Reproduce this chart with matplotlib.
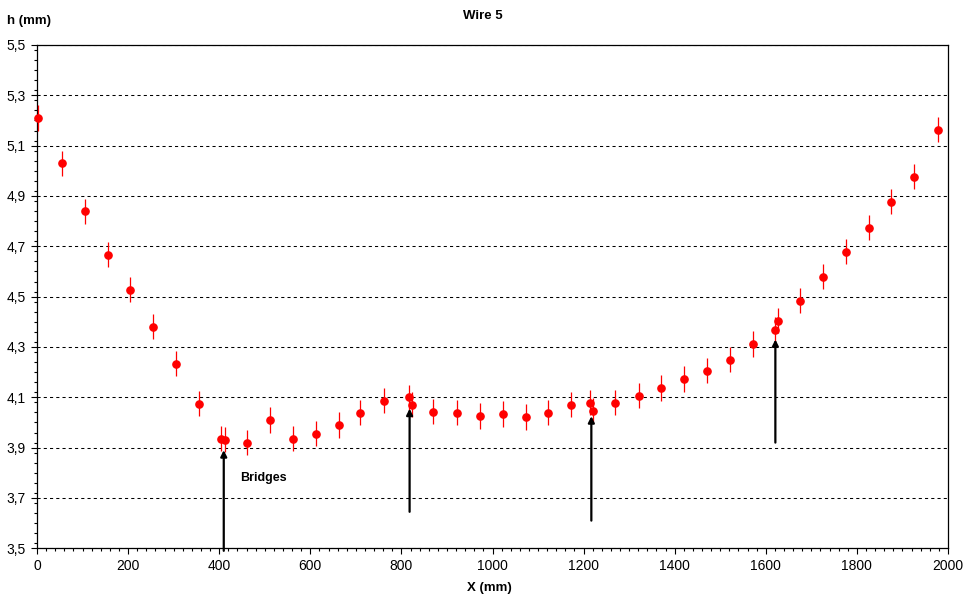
import matplotlib
matplotlib.use("Agg")
import matplotlib.pyplot as plt
from matplotlib.ticker import MultipleLocator

plt.rcParams['font.family'] = ['Liberation Sans', 'DejaVu Sans']

# Measured profile of wire 5
X_MM = [3, 54, 105, 155, 204, 254, 305, 355, 405, 413, 460, 511, 561, 612, 662,
        710, 761, 817, 823, 870, 921, 972, 1022, 1073, 1121, 1172, 1215, 1220,
        1270, 1321, 1371, 1420, 1470, 1521, 1571, 1620, 1626, 1674, 1725, 1775,
        1826, 1874, 1925, 1979]
H_MM = [5.21, 5.03, 4.84, 4.666, 4.527, 4.38, 4.234, 4.074, 3.935, 3.932, 3.92,
        4.01, 3.935, 3.955, 3.99, 4.038, 4.087, 4.10, 4.07, 4.042, 4.038, 4.026,
        4.034, 4.022, 4.038, 4.07, 4.078, 4.046, 4.078, 4.106, 4.137, 4.173,
        4.205, 4.249, 4.312, 4.368, 4.404, 4.484, 4.579, 4.679, 4.774, 4.877,
        4.976, 5.163]
H_ERR = 0.05

# bridge arrows: x, tail y, head y
BRIDGE_X = [410, 818, 1217, 1621]
BRIDGE_Y0 = [3.49, 3.645, 3.61, 3.92]
BRIDGE_Y1 = [3.89, 4.055, 4.025, 4.33]

Y_TICKS = [3.5, 3.7, 3.9, 4.1, 4.3, 4.5, 4.7, 4.9, 5.1, 5.3, 5.5]
Y_LABELS = ["3,5", "3,7", "3,9", "4,1", "4,3", "4,5", "4,7", "4,9", "5,1", "5,3", "5,5"]
X_TICKS = list(range(0, 2001, 200))

fig = plt.figure(figsize=(9.71, 6.05), dpi=100)
ax = fig.add_axes([37 / 971, 1 - 548.3 / 605, (948.3 - 37.3) / 971, (548.3 - 45) / 605])

markers, caps, bars = ax.errorbar(X_MM, H_MM, yerr=H_ERR, fmt='o', color='red', ms=5.2,
                                  elinewidth=0.9, capsize=0, zorder=3)
markers.set_clip_on(False)
for b in bars:
    b.set_clip_on(False)

for x, y0, y1 in zip(BRIDGE_X, BRIDGE_Y0, BRIDGE_Y1):
    ax.annotate("", xy=(x, y1), xytext=(x, y0), annotation_clip=False,
                arrowprops=dict(arrowstyle='-|>', color='black', lw=1.6,
                                mutation_scale=9, shrinkA=0, shrinkB=0))
ax.text(445, 3.78, "Bridges", fontsize=9, fontweight='bold', va='center', ha='left')

ax.set_xlim(0, 2000)
ax.set_ylim(3.5, 5.5)
ax.set_xticks(X_TICKS)
ax.set_yticks(Y_TICKS)
ax.set_yticklabels(Y_LABELS)
ax.xaxis.set_minor_locator(MultipleLocator(20))
ax.yaxis.set_minor_locator(MultipleLocator(0.04))
ax.tick_params(which='major', length=4, width=0.8, labelsize=10, pad=4, color='black')
ax.tick_params(which='minor', length=2.5, width=0.8)
ax.grid(axis='y', which='major', color='black', linestyle=(0, (3, 3)), linewidth=0.75)
for s in ax.spines.values():
    s.set_linewidth(0.9)

fig.text(483 / 971, 1 - 16 / 605, "Wire 5", fontsize=9.5, fontweight='bold',
         ha='center', va='center')
fig.text(7 / 971, 1 - 21 / 605, "h (mm)", fontsize=9.5, fontweight='bold',
         ha='left', va='center')
fig.text(489 / 971, 1 - 588 / 605, "X (mm)", fontsize=9.5, fontweight='bold',
         ha='center', va='center')

fig.savefig("out.png", dpi=100)
